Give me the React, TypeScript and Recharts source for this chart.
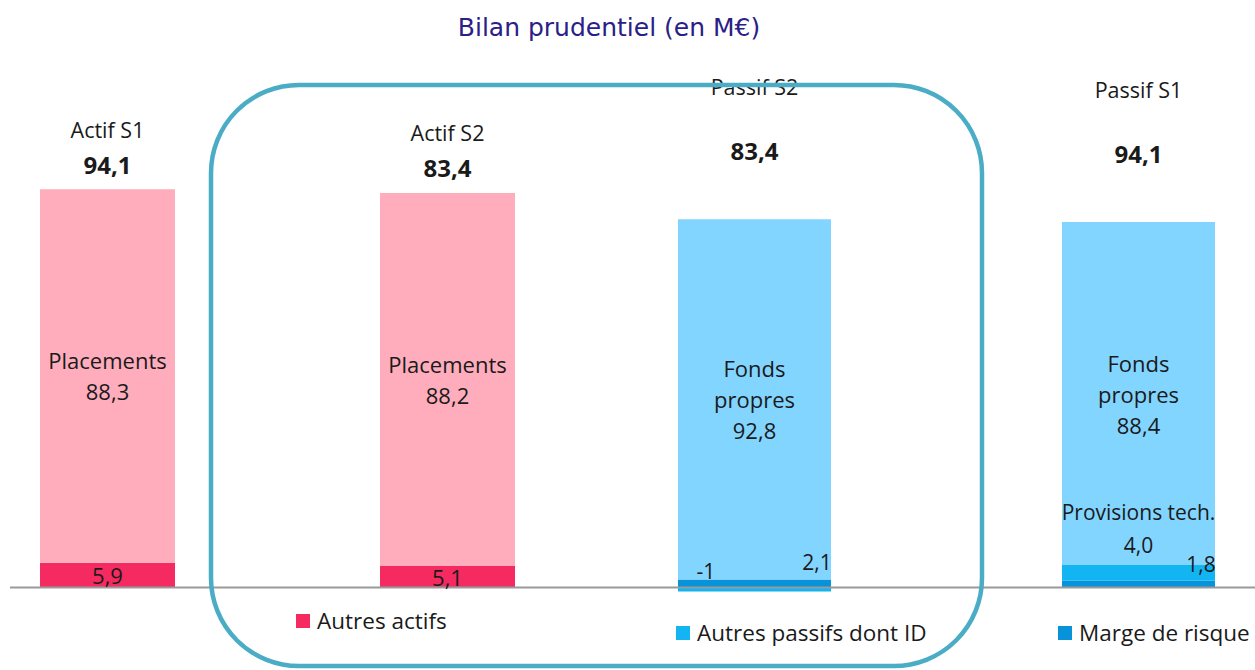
import { BarChart, Bar, XAxis, YAxis, LabelList, ReferenceLine } from "recharts";

const categories = ["Actif  S1", "Actif  S2", "Passif S2", "Passif S1"];
const totals = [94.1, 83.4, 83.4, 94.1];
const autresActifs = [5.9, 5.1, null, null];
const placements = [88.3, 88.2, null, null];
const margeRisque = [null, null, 2.1, 1.8];
const autresPassifs = [null, null, -1, 4.0];
const autresPassifsText = ["", "", "-1", "4,0"];
const autresPassifsNames = ["", "", "", "Provisions tech."];
const fondsPropres = [null, null, 92.8, 88.4];

const legendItems = [
	{ name: "Autres actifs", color: "#F42A60", left: 296, top: 605 },
	{ name: "Autres passifs dont ID", color: "#12B4F2", left: 676, top: 617 },
	{ name: "Marge de risque", color: "#0792DA", left: 1058, top: 617 },
];

const data = categories.map((name, i) => ({
	name,
	total: totals[i],
	autresActifs: autresActifs[i],
	placements: placements[i],
	margeRisque: margeRisque[i],
	autresPassifs: autresPassifs[i],
	fondsPropres: fondsPropres[i],
}));

const FONT = "'Open Sans', sans-serif";
const TXT = "#1a1a1a";
// the passif bars come from a second overlaid chart with its own scale
const PASSIF_RATIO = 1.09;

const fmt = (v: number) => v.toFixed(1).replace(".", ",");

const num = (v: any) => Number(v);

const CenterLabel = (lines: (v: number) => string[], gap: number) => (p: any) => {
	const cx = num(p.x) + num(p.width) / 2;
	const cy = num(p.y) + num(p.height) / 2;
	const ls = lines(num(p.value));
	const start = cy - ((ls.length - 1) * gap) / 2;
	return (
		<g>
			{ls.map((l, k) => (
				<text key={k} x={cx} y={start + k * gap} textAnchor="middle" dominantBaseline="central"
					fontFamily={FONT} fontSize={22} fill={TXT}>
					{l}
				</text>
			))}
		</g>
	);
};

// LabelList with dataKey="name": value is the category name
const TopLabel = (nameOff: number, totalOff: number) => (p: any) => {
	const cx = num(p.x) + num(p.width) / 2;
	const top = num(p.y);
	const i = categories.indexOf(p.value);
	return (
		<g>
			<text x={cx} y={top - nameOff} textAnchor="middle" dominantBaseline="central"
				fontFamily={FONT} fontSize={21.5} fill={TXT}>
				{categories[i]}
			</text>
			<text x={cx} y={top - totalOff} textAnchor="middle" dominantBaseline="central"
				fontFamily={FONT} fontSize={24} fontWeight="bold" fill={TXT}>
				{fmt(totals[i])}
			</text>
		</g>
	);
};

const MargeLabel = (p: any) => {
	const right = num(p.x) + num(p.width);
	return (
		<text x={right - 14} y={num(p.y) - 17} textAnchor="middle" dominantBaseline="central"
			fontFamily={FONT} fontSize={21} fill={TXT}>
			{fmt(num(p.value))}
		</text>
	);
};

const AutresPassifsLabel = (p: any) => {
	const i = categories.indexOf(p.value);
	const top = num(p.y);
	const nm = autresPassifsNames[i];
	const cx = nm ? num(p.x) + num(p.width) / 2 : num(p.x) + 28;
	return (
		<g>
			{nm && (
				<text x={cx} y={top - 53} textAnchor="middle" dominantBaseline="central"
					fontFamily={FONT} fontSize={21} fill={TXT}>
					{nm}
				</text>
			)}
			<text x={cx} y={top - 20} textAnchor="middle" dominantBaseline="central"
				fontFamily={FONT} fontSize={21} fill={TXT}>
				{autresPassifsText[i]}
			</text>
		</g>
	);
};

export default function App() {
	return (
		<div style={{ position: "absolute", left: 0, top: 0, width: 1255, height: 670, overflow: "hidden", background: "#fff" }}>
			<div style={{ position: "absolute", left: 0, top: 13, width: 1218, textAlign: "center",
				fontFamily: "'DejaVu Sans', sans-serif", fontSize: 25, color: "#2A2087" }}>
				Bilan prudentiel (en M€)
			</div>
			<BarChart width={1255} height={670} data={data} stackOffset="sign"
				margin={{ top: 80, right: 0, bottom: 57, left: 10 }}>
				<XAxis xAxisId="a" dataKey="name" hide padding={{ left: -73, right: -42 }} />
				<XAxis xAxisId="p" dataKey="name" hide padding={{ left: -216, right: -75 }} />
				<YAxis yAxisId="a" hide domain={[-6, 120]} />
				<YAxis yAxisId="p" hide domain={[-6 * PASSIF_RATIO, 120 * PASSIF_RATIO]} />

				<Bar dataKey="autresActifs" stackId="actif" xAxisId="a" yAxisId="a" fill="#F42A60" barSize={135} isAnimationActive={false}>
					<LabelList dataKey="autresActifs" content={CenterLabel((v) => [fmt(v)], 0)} />
				</Bar>
				<Bar dataKey="placements" stackId="actif" xAxisId="a" yAxisId="a" fill="#FFADBD" barSize={135} isAnimationActive={false}>
					<LabelList dataKey="placements" content={CenterLabel((v) => ["Placements", fmt(v)], 31)} />
					<LabelList dataKey="name" content={TopLabel(60, 25)} />
				</Bar>

				<Bar dataKey="margeRisque" stackId="passif" xAxisId="p" yAxisId="p" fill="#0792DA" barSize={153} isAnimationActive={false}>
					<LabelList dataKey="margeRisque" content={MargeLabel} />
				</Bar>
				<Bar dataKey="autresPassifs" stackId="passif" xAxisId="p" yAxisId="p" fill="#12B4F2" barSize={153} isAnimationActive={false}>
					<LabelList dataKey="name" content={AutresPassifsLabel} />
				</Bar>
				<Bar dataKey="fondsPropres" stackId="passif" xAxisId="p" yAxisId="p" fill="#82D5FF" barSize={153} isAnimationActive={false}>
					<LabelList dataKey="fondsPropres" content={CenterLabel((v) => ["Fonds", "propres", fmt(v)], 31)} />
					<LabelList dataKey="name" content={TopLabel(133, 69)} />
				</Bar>

				<ReferenceLine y={0} xAxisId="a" yAxisId="a" stroke="#9a9a9a" strokeWidth={2} />
			</BarChart>
			{legendItems.map((it) => (
				<div key={it.name} style={{ position: "absolute", left: it.left, top: it.top, display: "flex",
					alignItems: "center", fontFamily: FONT, fontSize: 22.5, color: TXT, whiteSpace: "nowrap" }}>
					<span style={{ width: 14, height: 14, background: it.color, marginRight: 7, display: "inline-block" }} />
					{it.name}
				</div>
			))}
			<svg width={1255} height={670} style={{ position: "absolute", left: 0, top: 0, pointerEvents: "none" }}>
				<rect x={211} y={85} width={771} height={581} rx={88} ry={88} fill="none" stroke="#4BACC6" strokeWidth={4.5} />
			</svg>
		</div>
	);
}
